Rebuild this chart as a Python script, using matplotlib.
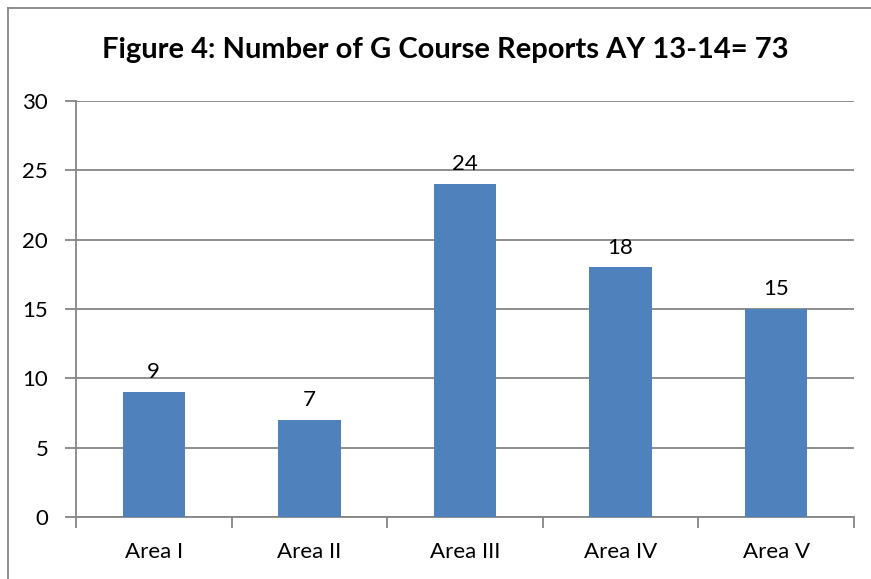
import matplotlib
matplotlib.use("Agg")
import matplotlib.pyplot as plt
from matplotlib.lines import Line2D

categories = ["Area I", "Area II", "Area III", "Area IV", "Area V"]
values = [9, 7, 24, 18, 15]
yticks = [0, 5, 10, 15, 20, 25, 30]
title = "Figure 4: Number of G Course Reports AY 13-14= 73"

W, H = 871, 579
fig = plt.figure(figsize=(W / 100, H / 100), dpi=100)
fig.patch.set_facecolor("white")

grey = "#868686"
bar_color = "#4F81BD"
font = ["Lato", "DejaVu Sans"]

# outer chart border (left and top visible)
fig.add_artist(Line2D([8 / W, 8 / W], [0, 1 - 8 / H], transform=fig.transFigure,
                      color=grey, lw=1.3))
fig.add_artist(Line2D([8 / W, 1], [1 - 8 / H, 1 - 8 / H], transform=fig.transFigure,
                      color=grey, lw=1.3))

left, right, top, bottom = 76, 854, 101, 517
ax = fig.add_axes([left / W, 1 - bottom / H, (right - left) / W, (bottom - top) / H])

x = list(range(len(categories)))
ax.bar(x, values, width=0.4, color=bar_color, zorder=3)
ax.set_xlim(-0.5, len(categories) - 0.5)
ax.set_ylim(0, 30)
ax.set_yticks(yticks)
ax.set_yticklabels([str(t) for t in yticks], fontsize=16, family=font)
ax.yaxis.grid(True, color=grey, lw=1.3, zorder=0)
ax.set_axisbelow(True)

ax.set_xticks(x)
ax.set_xticklabels(categories, fontsize=16, family=font)
ax.set_xticks([i - 0.5 for i in range(len(categories) + 1)], minor=True)
ax.tick_params(axis="x", which="major", length=0, pad=18)
ax.tick_params(axis="x", which="minor", length=8, width=1.3, color=grey)
ax.tick_params(axis="y", length=8, width=1.3, color=grey, pad=12)

for s in ["top", "right"]:
    ax.spines[s].set_visible(False)
for s in ["left", "bottom"]:
    ax.spines[s].set_color(grey)
    ax.spines[s].set_linewidth(1.3)

for xi, v in zip(x, values):
    ax.annotate(str(v), (xi, v), xytext=(0, 7), textcoords="offset points",
                ha="center", va="bottom", fontsize=16, family=font)

fig.text(445 / W, 1 - 50 / H, title, ha="center", va="center",
         fontsize=21, fontweight="bold", family=font)

fig.savefig("out.png", dpi=100)
